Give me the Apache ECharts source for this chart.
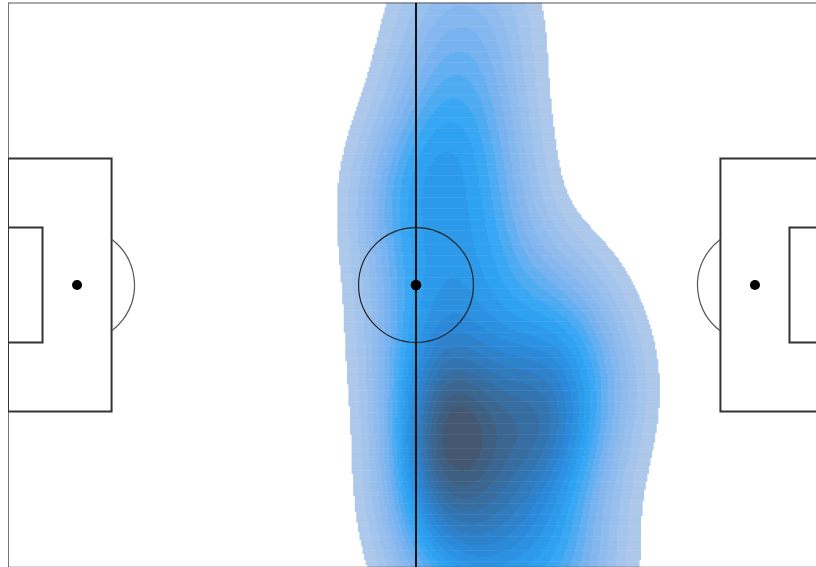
<!DOCTYPE html>
<html><head><meta charset="utf-8">
<script src="https://cdn.jsdelivr.net/npm/echarts@6/dist/echarts.min.js"></script>
<style>html,body{margin:0;padding:0;background:#fff}#chart{width:816px;height:567px}</style>
</head><body><div id="chart"></div>
<script>
// Estimated event locations (metres, pitch 130 x 90, y measured from top touchline)
const eventX = [70,78,67,75,78,70,
                64,68,72,62,63,74,69,64,78,73,80,85,90,92,
                70,71,70,72,69,
                63,68,74,80,96,86,66,74,67,74,84,88,92,80,78,65,86,85,83,
                68,74,80,88,68,74,80,86,93];
const eventY = [-2,2,9,12,22,18,
                26,24,28,31,36,38,43,45,32,46,44,48,50,55,
                66,69,72,67,70,
                55,56,56,58,62,62,62,62,76,76,66,69,73,72,80,78,80,64,69,
                84,86,84,87,92,92,93,95,92];
// Pitch dimensions (metres)
const pitchLength = 130, pitchWidth = 90;
const boxDepth = 16.5, boxWidth = 40.32, sixDepth = 5.5, sixWidth = 18.32;
const spotDist = 11, circleRadius = 9.15;

// KDE settings
const bwX = 6, bwY = 9, STEP = 0.25, N_LEVELS = 20, THRESH = 0.07;
const colorStops = [[0,'#adc8eb'],[0.25,'#7db4f0'],[0.45,'#2ea5f4'],[0.65,'#2c86d6'],[0.82,'#3570a6'],[1,'#435870']];

function hexToRgb(h){return [parseInt(h.slice(1,3),16),parseInt(h.slice(3,5),16),parseInt(h.slice(5,7),16)];}
function ramp(t){
  for(let i=1;i<colorStops.length;i++){
    if(t<=colorStops[i][0]){
      const a=colorStops[i-1], b=colorStops[i];
      const f=(t-a[0])/(b[0]-a[0]); const ca=hexToRgb(a[1]), cb=hexToRgb(b[1]);
      return 'rgb('+ca.map((v,k)=>Math.round(v+(cb[k]-v)*f)).join(',')+')';
    }
  }
  return colorStops[colorStops.length-1][1];
}
const levelColors = [];
for(let i=0;i<N_LEVELS;i++) levelColors.push(ramp(i/(N_LEVELS-1)));

// view window: the figure is cropped at its right and bottom edges
const scale = 816/pitchLength;               // px per metre
const gridLeft = 8, gridTop = 2.6;
const viewMaxX = (816-gridLeft)/scale, viewMaxY = (567-gridTop)/scale;

// density grid
const x0 = 30, x1 = 125;
const nx = Math.round((x1-x0)/STEP), ny = Math.round(pitchWidth/STEP);
const dens = new Float32Array(nx*ny);
let dmax = 0;
for(let j=0;j<ny;j++){
  const y = (j+0.5)*STEP;
  for(let i=0;i<nx;i++){
    const x = x0+(i+0.5)*STEP;
    let s=0;
    for(let k=0;k<eventX.length;k++){
      const dx=(x-eventX[k])/bwX, dy=(y-eventY[k])/bwY;
      s+=Math.exp(-0.5*(dx*dx+dy*dy));
    }
    dens[j*nx+i]=s; if(s>dmax) dmax=s;
  }
}
const thr = THRESH*dmax;
const runs = [];
for(let j=0;j<ny;j++){
  let cur=-1, start=0;
  for(let i=0;i<=nx;i++){
    let lv=-1;
    if(i<nx){
      const d=dens[j*nx+i];
      if(d>=thr) lv=Math.min(N_LEVELS-1, Math.floor((d-thr)/(dmax-thr)*N_LEVELS));
    }
    if(lv!==cur){
      if(cur>=0) runs.push([x0+start*STEP, x0+i*STEP, (j+0.5)*STEP, cur]);
      cur=lv; start=i;
    }
  }
}

// pitch shapes
const cy = pitchWidth/2;
const arcA = Math.acos((boxDepth-spotDist)/circleRadius);
const pitchShapes = [
  {t:'rect', x:0, y:0, w:pitchLength, h:pitchWidth, c:'#555', lw:1.6},
  {t:'rect', x:0, y:cy-boxWidth/2, w:boxDepth, h:boxWidth, c:'#333', lw:2},
  {t:'rect', x:0, y:cy-sixWidth/2, w:sixDepth, h:sixWidth, c:'#333', lw:2},
  {t:'rect', x:pitchLength-boxDepth, y:cy-boxWidth/2, w:boxDepth, h:boxWidth, c:'#333', lw:2},
  {t:'rect', x:pitchLength-sixDepth, y:cy-sixWidth/2, w:sixDepth, h:sixWidth, c:'#333', lw:2},
  {t:'line', x:pitchLength/2, y:0, x2:pitchLength/2, y2:pitchWidth, c:'#111', lw:2},
  {t:'circle', x:pitchLength/2, y:cy, r:circleRadius, c:'#222', lw:1.2},
  {t:'arc', x:spotDist, y:cy, r:circleRadius, a0:-arcA, a1:arcA, c:'#555', lw:1.2},
  {t:'arc', x:pitchLength-spotDist, y:cy, r:circleRadius, a0:Math.PI-arcA, a1:Math.PI+arcA, c:'#555', lw:1.2},
  {t:'spot', x:pitchLength/2, y:cy, r:0.85},
  {t:'spot', x:spotDist, y:cy, r:0.8},
  {t:'spot', x:pitchLength-spotDist, y:cy, r:0.8}
];

const chart = echarts.init(document.getElementById('chart'), null, {renderer:'canvas'});
chart.setOption({
  backgroundColor:'#fff',
  animation:false,
  grid:{left:gridLeft, top:gridTop, right:0, bottom:0, containLabel:false},
  xAxis:{type:'value', min:0, max:viewMaxX, show:false},
  yAxis:{type:'value', min:0, max:viewMaxY, inverse:true, show:false},
  series:[
    {type:'custom', name:'density', silent:true, clip:true, progressive:0, z:1,
     data:runs,
     renderItem:function(params, api){
       const a=api.coord([api.value(0), api.value(2)-STEP/2]);
       const b=api.coord([api.value(1), api.value(2)+STEP/2]);
       return {type:'rect', shape:{x:a[0], y:a[1], width:b[0]-a[0]+0.6, height:b[1]-a[1]+0.6},
               style:{fill:levelColors[api.value(3)]}};
     }},
    {type:'custom', name:'pitch', silent:true, clip:true, progressive:0, z:5,
     data:pitchShapes.map((s,i)=>[i,0]),
     renderItem:function(params, api){
       const s=pitchShapes[params.dataIndex];
       const p=api.coord([s.x, s.y]);
       if(s.t==='rect'){
         const q=api.coord([s.x+s.w, s.y+s.h]);
         return {type:'rect', shape:{x:p[0], y:p[1], width:q[0]-p[0], height:q[1]-p[1]}, style:{fill:null, stroke:s.c, lineWidth:s.lw}};
       }
       if(s.t==='line'){
         const q=api.coord([s.x2, s.y2]);
         return {type:'line', shape:{x1:p[0], y1:p[1], x2:q[0], y2:q[1]}, style:{stroke:s.c, lineWidth:s.lw}};
       }
       const r=api.size([s.r,0])[0];
       if(s.t==='circle') return {type:'circle', shape:{cx:p[0], cy:p[1], r:r}, style:{fill:null, stroke:s.c, lineWidth:s.lw}};
       if(s.t==='arc') return {type:'arc', shape:{cx:p[0], cy:p[1], r:r, startAngle:s.a0, endAngle:s.a1, clockwise:true}, style:{fill:null, stroke:s.c, lineWidth:s.lw}};
       return {type:'circle', shape:{cx:p[0], cy:p[1], r:r}, style:{fill:'#000'}};
     }}
  ]
});
</script>
</body></html>
